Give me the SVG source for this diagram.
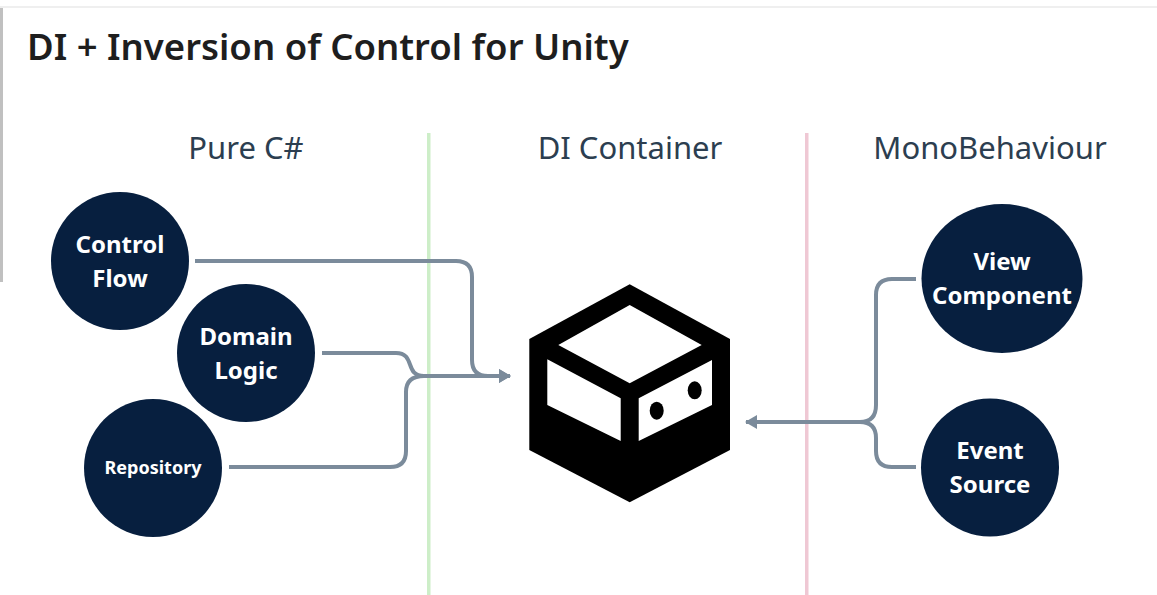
<svg xmlns="http://www.w3.org/2000/svg" width="1157" height="595" viewBox="0 0 1157 595">
<style>
.h{font-family:"Noto Sans","DejaVu Sans",sans-serif;font-size:31px;fill:#2c3e50;text-anchor:middle}
.n{font-family:"Noto Sans","DejaVu Sans",sans-serif;font-weight:700;font-size:24px;fill:#fff;text-anchor:middle}
.c{fill:#071f3f}
.l{fill:none;stroke:#7b8b9b;stroke-width:4}
</style>
<defs><marker id="a" markerUnits="userSpaceOnUse" markerWidth="12" markerHeight="14" refX="11" refY="7" orient="auto"><path d="M0 0L12 7L0 14Z" fill="#7b8b9b"/></marker></defs>
<rect width="1157" height="595" fill="#fff"/>
<rect y="6" width="1157" height="2" fill="#efefef"/>
<rect y="8" width="3" height="274" fill="#c0c0c0"/>
<text x="27" y="60" font-family="'Noto Sans','Open Sans',sans-serif" font-weight="600" font-size="36.500px" fill="#1e1e1e">DI + Inversion of Control for Unity</text>
<rect x="427" y="133" width="3.500" height="462" fill="#cdeec8"/>
<rect x="805" y="133" width="3.500" height="462" fill="#efc8d4"/>
<text class="h" x="246" y="159">Pure C#</text>
<text class="h" x="630" y="159">DI Container</text>
<text class="h" x="990" y="159">MonoBehaviour</text>
<g id="connectors">
<path class="l" d="M195 261H456Q472 261 472 277V360Q472 376 488 376H510" marker-end="url(#a)"/>
<path class="l" d="M322 353H396C416 353 404 376 424 376H510" marker-end="url(#a)"/>
<path class="l" d="M229 467H390Q406 467 406 451V392Q406 376 424 376"/>
<path class="l" d="M916 279H892Q876 279 876 295V405Q876 422 860 422H746" marker-end="url(#a)"/>
<path class="l" d="M916 467H892Q876 467 876 451V438Q876 422 860 422"/>
</g>
<g id="container">
<path d="M629.700 284.300L730 339V450L629.700 502.300L529.300 450V339Z"/>
<path fill="#fff" d="M629.700 305L701.700 345L629.700 383.300L558.300 345ZM547.300 359.300L620.700 398.300V441L547.300 405ZM638.700 398.300L712 360V405L638.700 441Z"/>
<ellipse cx="656.700" cy="410.700" rx="7" ry="9"/>
<ellipse cx="694.700" cy="390.300" rx="7" ry="9"/>
</g>
<g id="control-flow"><circle class="c" cx="120" cy="261" r="69"/><text class="n" x="120" y="253">Control</text><text class="n" x="120" y="287">Flow</text></g>
<g id="domain-logic"><circle class="c" cx="246" cy="353" r="69"/><text class="n" x="246" y="345">Domain</text><text class="n" x="246" y="379">Logic</text></g>
<g id="repository"><circle class="c" cx="153" cy="468" r="69"/><text class="n" x="153" y="474" style="font-size:18px">Repository</text></g>
<g id="view-component"><ellipse class="c" cx="1002" cy="278.500" rx="80.500" ry="74.500"/><text class="n" x="1002" y="270">View</text><text class="n" x="1002" y="304">Component</text></g>
<g id="event-source"><circle class="c" cx="990" cy="467.500" r="69"/><text class="n" x="990" y="459">Event</text><text class="n" x="990" y="493">Source</text></g>
</svg>
